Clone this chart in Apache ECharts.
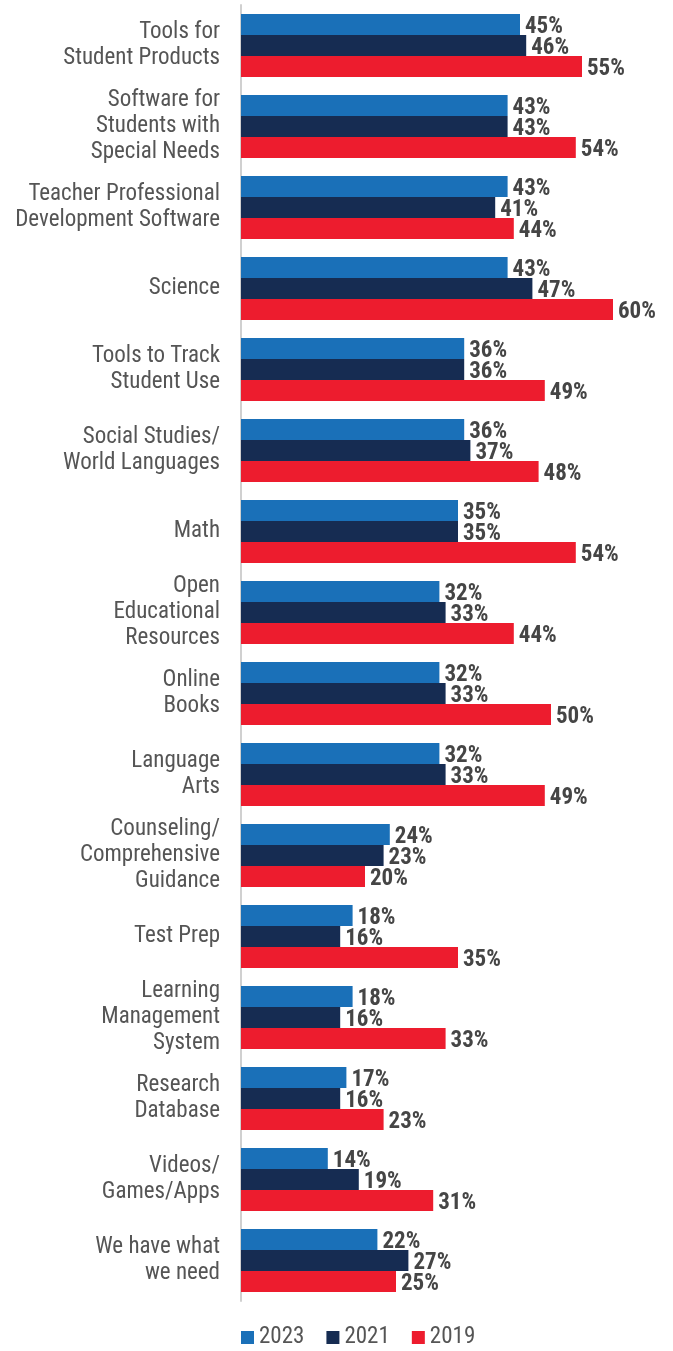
<!DOCTYPE html>
<html><head><meta charset="utf-8">
<script src="https://cdn.jsdelivr.net/npm/echarts@6/dist/echarts.min.js"></script>
<style>html,body{margin:0;padding:0;background:#fff}#c{width:673px;height:1351px}</style>
</head><body><div id="c"></div>
<script>
const categories = [
  "Tools for\nStudent Products",
  "Software for\nStudents with\nSpecial Needs",
  "Teacher Professional\nDevelopment Software",
  "Science",
  "Tools to Track\nStudent Use",
  "Social Studies/\nWorld Languages",
  "Math",
  "Open\nEducational\nResources",
  "Online\nBooks",
  "Language\nArts",
  "Counseling/\nComprehensive\nGuidance",
  "Test Prep",
  "Learning\nManagement\nSystem",
  "Research\nDatabase",
  "Videos/\nGames/Apps",
  "We have what\nwe need"
];
const v2023 = [45,43,43,43,36,36,35,32,32,32,24,18,18,17,14,22];
const v2021 = [46,43,41,47,36,37,35,33,33,33,23,16,16,16,19,27];
const v2019 = [55,54,44,60,49,48,54,44,50,49,20,35,33,23,31,25];
const seriesNames = ["2023","2021","2019"];
const colors = ["#1a70b8","#162c52","#ed1c2e"];

const FONT = "'Roboto Condensed','Liberation Sans Narrow','Arial Narrow',Roboto,sans-serif";
const chart = echarts.init(document.getElementById('c'));
const mk = (name, data, color) => ({
  name, type: 'bar', data,
  barWidth: 21, barGap: '0%', barCategoryGap: '22%',
  itemStyle: { color },
  label: { show: true, position: 'right', distance: 5, formatter: '{c}%',
    fontFamily: FONT, fontSize: 23, fontWeight: 'bold', color: '#454545', offset:[0,3] }
});
chart.setOption({
  animation: false,
  color: colors,
  grid: { left: 241, right: 60, top: 5, bottom: 50, containLabel: false },
  xAxis: { type: 'value', min: 0, max: 60, show: false },
  yAxis: { type: 'category', data: categories, inverse: true,
    axisLine: { show: true, lineStyle: { color: '#d0d0d0', width: 2 } },
    axisTick: { show: false },
    axisLabel: { margin: 21, fontFamily: FONT, fontSize: 23, color: '#555555', align: 'right', lineHeight: 26 }
  },
  legend: { bottom: -3, left: 236, itemWidth: 13, itemHeight: 13, itemGap: 22, icon: 'rect',
    textStyle: { fontFamily: FONT, fontSize: 23, color: '#555555' },
    data: seriesNames },
  series: [mk(seriesNames[0], v2023, colors[0]), mk(seriesNames[1], v2021, colors[1]), mk(seriesNames[2], v2019, colors[2])]
});
</script></body></html>
